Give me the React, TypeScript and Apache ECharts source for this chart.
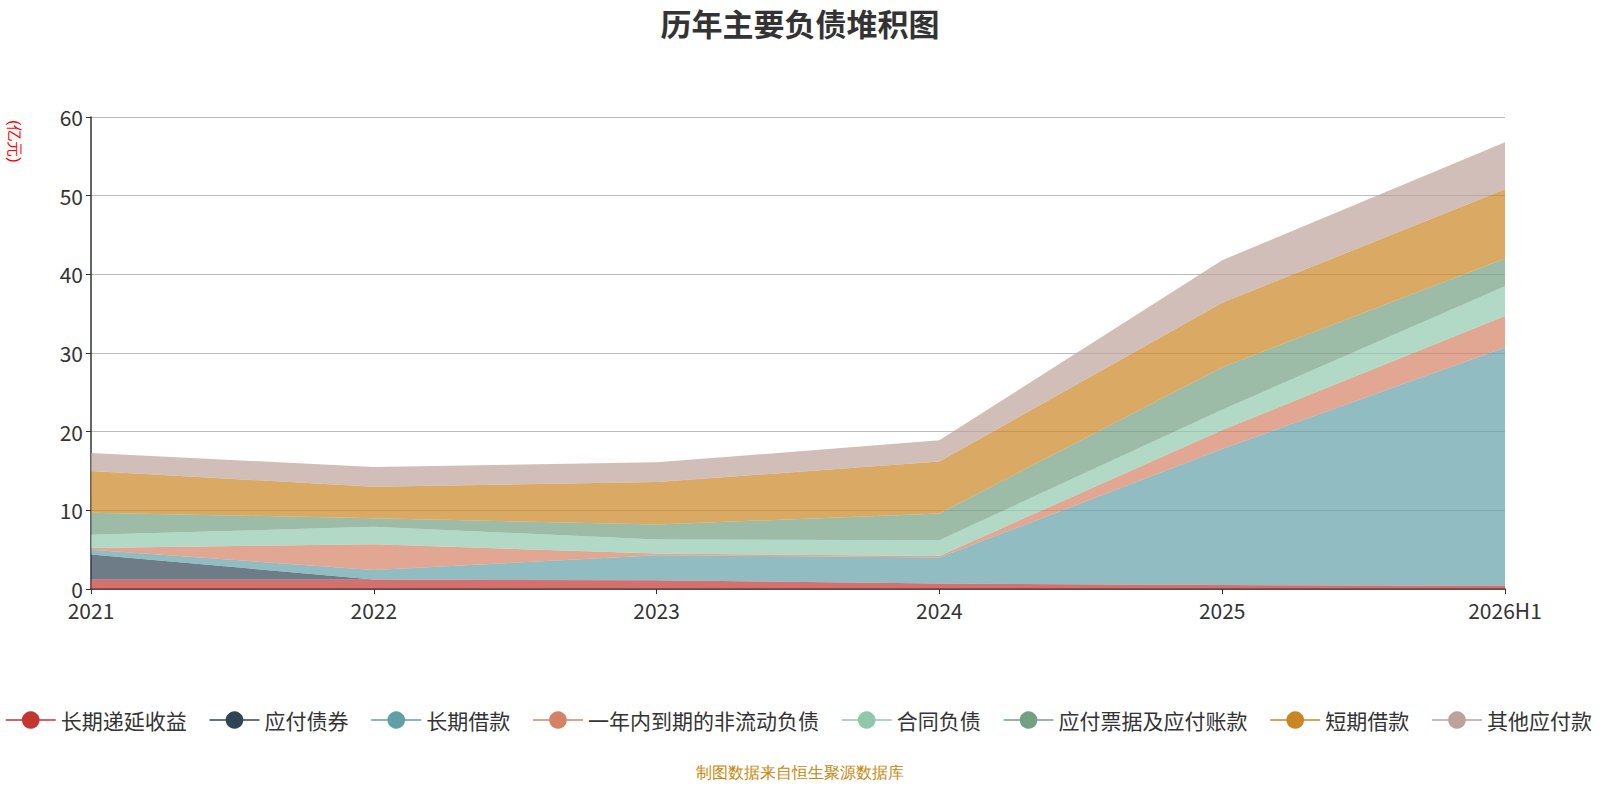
import React, { useEffect, useRef } from "react";
import * as echarts from "echarts";

const categories = ["2021", "2022", "2023", "2024", "2025", "2026H1"];
const seriesNames = ["长期递延收益", "应付债券", "长期借款", "一年内到期的非流动负债", "合同负债", "应付票据及应付账款", "短期借款", "其他应付款"];
const s1 = [1.2, 1.2, 1.1, 0.7, 0.5, 0.4];
const s2 = [3.2, 0, 0, 0, 0, 0];
const s3 = [0.6, 1.2, 3.2, 3.3, 17.3, 30.3];
const s4 = [0.2, 3.3, 0.2, 0.2, 2.4, 4.0];
const s5 = [1.7, 2.2, 1.8, 2.0, 2.6, 3.8];
const s6 = [2.8, 1.1, 1.9, 3.4, 5.4, 3.5];
const s7 = [5.3, 4.0, 5.4, 6.6, 8.2, 8.8];
const s8 = [2.3, 2.5, 2.5, 2.7, 5.4, 6.0];
const seriesValues = [s1, s2, s3, s4, s5, s6, s7, s8];
const colors = ["#c23531", "#2f4554", "#61a0a8", "#d48265", "#91c7ae", "#749f83", "#ca8622", "#bda29a"];

export default function App() {
  const ref = useRef<HTMLDivElement>(null);
  useEffect(() => {
    const chart = echarts.init(ref.current!, null, { renderer: "svg" });
    chart.setOption({
      animation: false,
      color: colors,
      textStyle: { fontFamily: "Noto Sans CJK SC" },
      title: {
        text: "历年主要负债堆积图",
        left: "center",
        top: 2,
        textStyle: { fontSize: 31, fontWeight: "bold", color: "#333" },
      },
      graphic: [
        {
          type: "text",
          left: "center",
          top: 764,
          style: { text: "制图数据来自恒生聚源数据库", fill: "#c8860a", fontSize: 16 },
        },
        {
          type: "text",
          x: 22,
          y: 120,
          rotation: -Math.PI / 2,
          style: { text: "(亿元)", fill: "red", fontSize: 16 },
        },
      ],
      legend: {
        type: "scroll",
        bottom: 64,
        left: 0,
        right: 0,
        itemWidth: 50,
        itemHeight: 22,
        itemGap: 22,
        textStyle: { fontSize: 21, color: "#333" },
        lineStyle: { width: 1.5 },
        pageIconSize: 22,
        pageIconColor: "#2f4554",
        pageTextStyle: { fontSize: 21, color: "#333" },
        data: seriesNames,
      },
      grid: { left: 91, right: 95, top: 117, bottom: 211 },
      xAxis: {
        type: "category",
        boundaryGap: false,
        data: categories,
        axisLine: { lineStyle: { color: "#333", width: 1.5 } },
        axisTick: { show: true },
        axisLabel: { fontSize: 21, color: "#333", margin: 10 },
      },
      yAxis: {
        type: "value",
        min: 0,
        max: 60,
        interval: 10,
        axisLine: { show: true, lineStyle: { color: "#333", width: 1.5 } },
        axisTick: { show: true },
        axisLabel: { fontSize: 21, color: "#333" },
        splitLine: { lineStyle: { color: "#bbb" } },
      },
      series: seriesNames.map((name, i) => ({
        name,
        type: "line",
        stack: "total",
        data: seriesValues[i],
        symbol: "circle",
        symbolSize: 8,
        showSymbol: false,
        lineStyle: { width: 0 },
        areaStyle: { opacity: 0.7 },
      })),
    });
    return () => chart.dispose();
  }, []);
  return <div ref={ref} style={{ width: 1600, height: 800, position: "absolute", left: 0, top: 0 }} />;
}
